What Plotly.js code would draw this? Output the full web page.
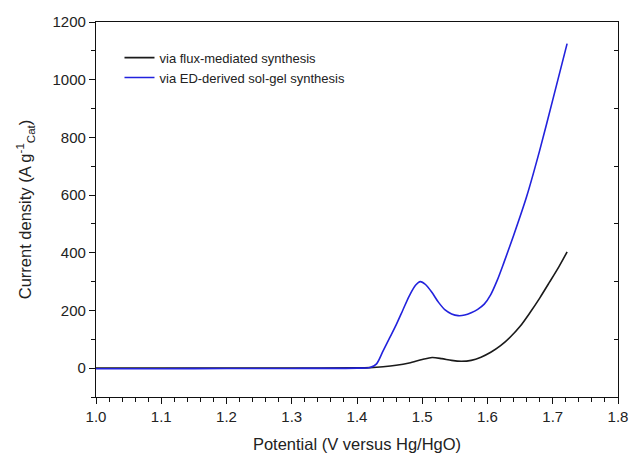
<!DOCTYPE html>
<html>
<head>
<meta charset="utf-8">
<script src="https://cdn.plot.ly/plotly-3.0.1.min.js"></script>
<style>html,body{margin:0;padding:0;background:#fff;}#chart{width:631px;height:461px;}</style>
</head>
<body>
<div id="chart"></div>
<script>
// Potential (V vs Hg/HgO)
const fluxV = [1.00, 1.10, 1.20, 1.30, 1.40, 1.42, 1.44, 1.46, 1.48, 1.50, 1.515, 1.53, 1.545, 1.56, 1.575, 1.59, 1.605, 1.62, 1.635, 1.65, 1.665, 1.68, 1.695, 1.71, 1.722];
const fluxI = [0, 0, 0, 0, 1, 2, 5, 10, 18, 30, 37, 33, 27, 24, 27, 38, 55, 78, 108, 145, 192, 243, 298, 354, 403];

const solgelV = [1.00, 1.10, 1.20, 1.30, 1.40, 1.42, 1.43, 1.44, 1.45, 1.46, 1.47, 1.48, 1.49, 1.497, 1.505, 1.515, 1.525, 1.535, 1.545, 1.555, 1.565, 1.575, 1.585, 1.595, 1.605, 1.615, 1.625, 1.64, 1.66, 1.68, 1.70, 1.722];
const solgelI = [-2, -2, -1, -1, 0, 2, 15, 60, 105, 150, 200, 250, 288, 300, 290, 262, 228, 202, 188, 182, 184, 192, 204, 222, 255, 305, 365, 460, 595, 755, 930, 1125];

const seriesNames = ['via flux-mediated synthesis', 'via ED-derived sol-gel synthesis'];
const xTickVals = [1.0, 1.1, 1.2, 1.3, 1.4, 1.5, 1.6, 1.7, 1.8];
const yTickVals = [0, 200, 400, 600, 800, 1000, 1200];
const rightTickVals = [100, 300, 500, 700, 900, 1100];

const font = 'Liberation Sans, Arial, sans-serif';

const traces = [
  {x: fluxV, y: fluxI, mode: 'lines', name: seriesNames[0], line: {color: '#1a1a1a', width: 1.6, shape: 'spline', smoothing: 0.8}},
  {x: solgelV, y: solgelI, mode: 'lines', name: seriesNames[1], line: {color: '#2222dd', width: 1.6, shape: 'spline', smoothing: 0.8}},
  {x: [fluxV[0]], y: [fluxI[0]], yaxis: 'y2', mode: 'markers', marker: {opacity: 0}, showlegend: false, hoverinfo: 'skip'}
];

const layout = {
  width: 631, height: 461,
  margin: {l: 96, r: 13, t: 22, b: 64},
  paper_bgcolor: '#fff', plot_bgcolor: '#fff',
  font: {family: font, color: '#222', size: 15},
  showlegend: true,
  legend: {x: 0.045, y: 0.945, xanchor: 'left', yanchor: 'top', bgcolor: 'rgba(0,0,0,0)', font: {size: 13, family: font, color: '#222'}, tracegroupgap: 0, itemwidth: 30},
  xaxis: {
    range: [1.0, 1.8], tickvals: xTickVals, tickformat: '.1f',
    ticks: 'outside', ticklen: 6, tickwidth: 1.2, tickcolor: '#111111',
    minor: {dtick: 0.02, tick0: 1.0, ticks: 'outside', ticklen: 4, tickwidth: 1, tickcolor: '#111111', showgrid: false},
    showgrid: false, zeroline: false, showline: true, mirror: true, linecolor: '#111', linewidth: 1.3,
    tickfont: {size: 15, family: font, color: '#222'},
    title: {text: 'Potential (V versus Hg/HgO)', font: {size: 16.5, family: font, color: '#222'}, standoff: 14}
  },
  yaxis: {
    range: [-100, 1200], tickvals: yTickVals,
    ticks: 'outside', ticklen: 6, tickwidth: 1.2, tickcolor: '#111111',
    minor: {dtick: 100, tick0: 0, ticks: 'outside', ticklen: 4, tickwidth: 1, tickcolor: '#111111', showgrid: false},
    showgrid: false, zeroline: false, showline: true, mirror: true, linecolor: '#111', linewidth: 1.3,
    tickfont: {size: 15, family: font, color: '#222'},
    title: {text: 'Current density (A g<sup>-1</sup><sub>Cat</sub>)', font: {size: 16.5, family: font, color: '#222'}, standoff: 16}
  },
  yaxis2: {
    overlaying: 'y', side: 'right', range: [-100, 1200], tickvals: rightTickVals,
    ticks: 'inside', ticklen: 4, tickwidth: 1, tickcolor: '#111111',
    showticklabels: false, showgrid: false, zeroline: false, showline: false
  }
};

Plotly.newPlot('chart', traces, layout, {displayModeBar: false});
</script>
</body>
</html>
